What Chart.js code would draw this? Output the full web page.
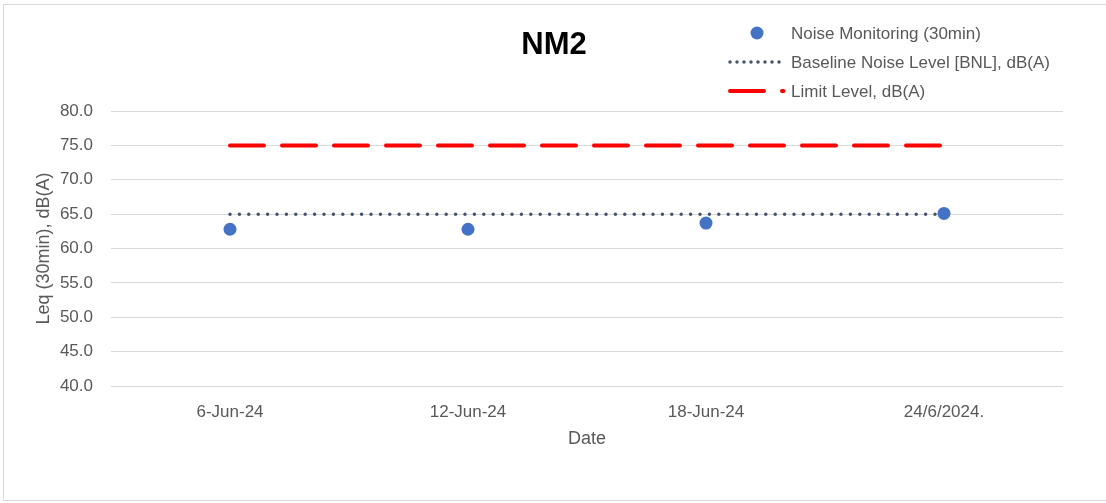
<!DOCTYPE html>
<html>
<head>
<meta charset="utf-8">
<script src="https://cdn.jsdelivr.net/npm/chart.js@4"></script>
<style>
  html, body { margin: 0; padding: 0; background: #ffffff; }
  #wrap { width: 1106px; height: 503px; }
</style>
</head>
<body>
<div id="wrap"><canvas id="c" width="1106" height="503"></canvas></div>
<script>
const categories = ['6-Jun-24', '12-Jun-24', '18-Jun-24', '24/6/2024.'];
const noiseValues = [62.8, 62.8, 63.7, 65.1];
const baselineValues = [65, 65, 65, 65];
const limitValues = [75, 75, 75, 75];
const seriesNames = ['Noise Monitoring (30min)', 'Baseline Noise Level [BNL], dB(A)', 'Limit Level, dB(A)'];
const yMin = 40, yMax = 80, yStep = 5;
const chartTitle = 'NM2';
const yTitle = 'Leq (30min), dB(A)';
const xTitle = 'Date';

const FONT = "'Liberation Sans', Arial, sans-serif";
const TEXT = '#595959';

const framePlugin = {
  id: 'frame',
  beforeDraw(chart) {
    const ctx = chart.ctx;
    ctx.save();
    ctx.fillStyle = '#ffffff';
    ctx.fillRect(0, 0, chart.width, chart.height);
    ctx.strokeStyle = '#d9d9d9';
    ctx.lineWidth = 1;
    ctx.strokeRect(3.5, 4.5, chart.width + 10, chart.height - 7);
    ctx.restore();
  },
  afterDraw(chart) {
    const ctx = chart.ctx;
    const ds = chart.data.datasets;
    ctx.save();
    // title
    ctx.fillStyle = '#000000';
    ctx.font = "bold 31px " + FONT;
    ctx.textAlign = 'center';
    ctx.textBaseline = 'middle';
    ctx.fillText(chartTitle, 554, 45);
    // legend
    const rows = [33, 62, 91];
    ctx.font = "17px " + FONT;
    ctx.textAlign = 'left';
    ctx.fillStyle = TEXT;
    // row 1: marker
    ctx.beginPath();
    ctx.fillStyle = ds[0].backgroundColor;
    ctx.arc(757, rows[0], 6.5, 0, Math.PI * 2);
    ctx.fill();
    // row 2: dotted
    ctx.beginPath();
    ctx.strokeStyle = ds[1].borderColor;
    ctx.lineWidth = ds[1].borderWidth;
    ctx.lineCap = 'round';
    ctx.setLineDash([0, 7]);
    ctx.moveTo(730, rows[1]);
    ctx.lineTo(780, rows[1]);
    ctx.stroke();
    // row 3: dashed
    ctx.beginPath();
    ctx.strokeStyle = ds[2].borderColor;
    ctx.lineWidth = ds[2].borderWidth;
    ctx.setLineDash(ds[2].borderDash);
    ctx.moveTo(730, rows[2]);
    ctx.lineTo(783.5, rows[2]);
    ctx.stroke();
    ctx.setLineDash([]);
    ctx.fillStyle = TEXT;
    for (let i = 0; i < 3; i++) {
      ctx.fillText(ds[i].label, 791, rows[i] + 1);
    }
    ctx.restore();
  }
};

new Chart(document.getElementById('c'), {
  type: 'line',
  data: {
    labels: categories,
    datasets: [
      {
        label: seriesNames[0],
        data: noiseValues,
        showLine: false,
        pointRadius: 6.5,
        pointHoverRadius: 6.5,
        backgroundColor: '#4472c4',
        borderColor: '#4472c4',
        pointBorderWidth: 0
      },
      {
        label: seriesNames[1],
        data: baselineValues,
        borderColor: '#44546a',
        borderWidth: 3.5,
        borderDash: [0, 9.4],
        borderCapStyle: 'round',
        pointRadius: 0,
        fill: false,
        tension: 0
      },
      {
        label: seriesNames[2],
        data: limitValues,
        borderColor: '#ff0000',
        borderWidth: 4,
        borderDash: [34, 18],
        borderCapStyle: 'round',
        pointRadius: 0,
        fill: false,
        tension: 0
      }
    ]
  },
  options: {
    responsive: false,
    animation: false,
    devicePixelRatio: 1,
    layout: { padding: { left: 0, top: 111, right: 43, bottom: 47 } },
    plugins: { legend: { display: false }, title: { display: false }, tooltip: { enabled: false } },
    scales: {
      x: {
        offset: true,
        grid: { display: false, drawTicks: false },
        border: { display: false },
        ticks: { color: TEXT, font: { family: FONT, size: 17 }, padding: 16, maxRotation: 0, autoSkip: false },
        title: { display: true, text: xTitle, color: TEXT, font: { family: FONT, size: 18 }, padding: { top: 0, bottom: 6 } },
        afterFit(s) { s.height = 70; }
      },
      y: {
        min: yMin,
        max: yMax,
        grid: { color: '#d9d9d9', lineWidth: 1, drawTicks: false },
        border: { display: false },
        ticks: {
          stepSize: yStep,
          color: TEXT,
          font: { family: FONT, size: 17 },
          padding: 18,
          callback: v => Number(v).toFixed(1)
        },
        title: { display: true, text: yTitle, color: TEXT, font: { family: FONT, size: 18 }, padding: { top: 33, bottom: 0 } },
        afterFit(s) { s.width = 111; }
      }
    }
  },
  plugins: [framePlugin]
});
</script>
</body>
</html>
